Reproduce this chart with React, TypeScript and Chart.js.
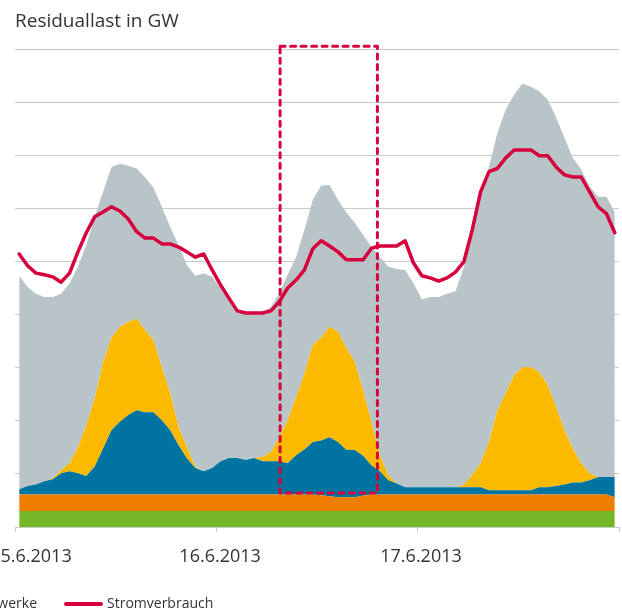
import React, { useEffect, useRef } from "react";
import { Chart, registerables } from "chart.js";

Chart.register(...registerables);

// ---------- data (GW, hourly values 15.6.2013 00:00 – 17.6.2013 23:00) ----------
const TITLE = "Residuallast in GW";
const dayLabels = ["15.6.2013", "16.6.2013", "17.6.2013"];

const green = [
  3.0, 3.0, 3.0, 3.0, 3.0, 3.0, 3.0, 3.0, 3.0, 3.0, 3.0, 3.0,
  3.0, 3.0, 3.0, 3.0, 3.0, 3.0, 3.0, 3.0, 3.0, 3.0, 3.0, 3.0,
  3.0, 3.0, 3.0, 3.0, 3.0, 3.0, 3.0, 3.0, 3.0, 3.0, 3.0, 3.0,
  3.0, 3.0, 3.0, 3.0, 3.0, 3.0, 3.0, 3.0, 3.0, 3.0, 3.0, 3.0,
  3.0, 3.0, 3.0, 3.0, 3.0, 3.0, 3.0, 3.0, 3.0, 3.0, 3.0, 3.0,
  3.0, 3.0, 3.0, 3.0, 3.0, 3.0, 3.0, 3.0, 3.0, 3.0, 3.0, 3.0,
];
const orange = [
  3.1, 3.1, 3.1, 3.1, 3.1, 3.1, 3.1, 3.1, 3.1, 3.1, 3.1, 3.1,
  3.1, 3.1, 3.1, 3.1, 3.1, 3.1, 3.1, 3.1, 3.1, 3.1, 3.1, 3.1,
  3.1, 3.1, 3.1, 3.1, 3.1, 3.1, 3.1, 3.1, 3.1, 3.1, 3.1, 3.1,
  3.0, 2.8, 2.6, 2.6, 2.6, 2.9, 3.1, 3.1, 3.1, 3.1, 3.1, 3.1,
  3.1, 3.1, 3.1, 3.1, 3.1, 3.1, 3.1, 3.1, 3.1, 3.1, 3.1, 3.1,
  3.1, 3.1, 3.1, 3.1, 3.1, 3.1, 3.1, 3.1, 3.1, 3.1, 3.1, 2.6,
];
const wind = [
  1.0, 1.6, 1.9, 2.5, 2.9, 4.0, 4.4, 4.0, 3.5, 5.3, 8.7, 12.1,
  13.7, 15.0, 15.9, 15.5, 15.5, 14.0, 12.1, 9.3, 6.8, 5.0, 4.4, 5.0,
  6.3, 6.9, 6.9, 6.5, 6.9, 6.3, 6.3, 6.3, 5.9, 7.4, 8.5, 9.9,
  10.3, 11.1, 10.4, 8.9, 8.9, 7.5, 5.5, 4.4, 2.7, 2.1, 1.4, 1.4,
  1.4, 1.4, 1.4, 1.4, 1.4, 1.4, 1.4, 1.4, 0.8, 0.8, 0.8, 0.8,
  0.8, 0.8, 1.4, 1.4, 1.6, 1.9, 2.3, 2.3, 2.7, 3.3, 3.3, 3.8,
];
const solar = [
  0, 0, 0, 0, 0.2, 0.6, 1.5, 4.9, 9.6, 12.8, 16.2, 17.5,
  17.9, 17.5, 17.2, 15.5, 13.6, 10.0, 7.0, 3.4, 2.1, 0.2, 0, 0,
  0, 0, 0, 0, 0, 0.8, 1.7, 4.5, 8.1, 10.9, 14.3, 18.3,
  19.4, 20.8, 20.8, 19.2, 16.6, 12.3, 8.1, 3.0, 0.9, 0, 0, 0,
  0, 0, 0, 0, 0, 0.4, 2.3, 4.5, 9.1, 15.1, 18.3, 21.7,
  23.2, 23.2, 21.7, 19.2, 14.9, 10.2, 6.4, 3.6, 1.3, 0, 0, 0,
];
const conventional = [
  40.2, 37.5, 35.9, 34.7, 34.1, 33.2, 33.9, 34.0, 33.9, 34.2, 32.1, 32.1,
  30.7, 29.4, 28.3, 28.7, 28.7, 30.2, 31.3, 34.3, 34.3, 36.0, 37.3, 36.0,
  32.6, 29.7, 27.5, 27.3, 27.1, 27.3, 27.3, 27.2, 27.4, 26.4, 27.0, 27.3,
  28.6, 26.7, 24.8, 25.5, 26.2, 29.3, 33.0, 37.3, 39.3, 40.4, 40.9, 38.4,
  35.4, 35.8, 35.8, 36.4, 36.9, 40.9, 45.6, 50.5, 51.8, 52.2, 53.4, 52.8,
  53.4, 52.8, 52.8, 53.8, 54.5, 55.1, 54.7, 55.3, 54.0, 52.8, 52.8, 49.8,
];
const consumption = [
  51.4, 49.2, 47.8, 47.5, 47.1, 46.1, 47.8, 51.8, 55.4, 58.4, 59.3, 60.3,
  59.5, 58.0, 55.6, 54.4, 54.4, 53.3, 53.3, 52.7, 51.8, 50.8, 51.4, 48.4,
  45.6, 43.1, 40.7, 40.3, 40.3, 40.3, 40.7, 42.4, 45.0, 46.5, 48.4, 52.4,
  53.9, 52.9, 51.8, 50.3, 50.3, 50.3, 52.5, 52.9, 52.9, 52.9, 53.9, 49.7,
  47.3, 46.9, 46.3, 46.9, 48.0, 49.9, 55.9, 63.1, 66.9, 67.5, 69.5, 71.0,
  71.0, 71.0, 69.9, 69.9, 67.8, 66.3, 65.9, 65.9, 63.1, 60.3, 59.0, 55.4,
];

// highlighted window (hours from 15.6. 00:00, GW)
const highlight = { from: 31.6, to: 43.2, low: 6.4, high: 90.5 };

// ---------- style ----------
const C_GREEN = "#76b72a";
const C_ORANGE = "#ef7d00";
const C_BLUE = "#0074a0";
const C_YELLOW = "#fbba00";
const C_GREY = "#b9c4c8";
const C_RED = "#d5003c";
const C_GRID = "#c6cdd1";
const C_TEXT = "#333333";
const FONT = '"Open Sans", "Noto Sans", sans-serif';

const toPoints = (arr: number[]) => arr.map((v, i) => ({ x: i + 0.5, y: v }));

const overlay = {
  id: "overlay",
  afterDatasetsDraw(chart: any) {
    const { ctx, scales } = chart;
    const x = scales.x;
    const y = scales.y;
    ctx.save();
    // dashed highlight box
    const l = x.getPixelForValue(highlight.from);
    const r = x.getPixelForValue(highlight.to);
    const t = y.getPixelForValue(highlight.high);
    const b = y.getPixelForValue(highlight.low);
    ctx.strokeStyle = C_RED;
    ctx.lineWidth = 3;
    ctx.lineCap = "round";
    ctx.lineJoin = "round";
    ctx.setLineDash([5, 5.5]);
    ctx.strokeRect(l, t, r - l, b - t);
    ctx.setLineDash([]);
    ctx.restore();
  },
  afterDraw(chart: any) {
    const { ctx, scales, chartArea } = chart;
    const x = scales.x;
    ctx.save();
    ctx.fillStyle = C_TEXT;
    ctx.textBaseline = "alphabetic";
    // title
    ctx.font = `19px ${FONT}`;
    ctx.textAlign = "left";
    ctx.fillText(TITLE, chartArea.left, 27);
    // day labels
    ctx.font = `18px ${FONT}`;
    ctx.textAlign = "center";
    const at = [1.9, 24.45, 48.4];
    dayLabels.forEach((lab, i) => {
      ctx.fillText(lab, x.getPixelForValue(at[i]), 562);
    });
    // legend (partially outside the picture on the left)
    ctx.font = `14px ${FONT}`;
    ctx.textAlign = "right";
    ctx.fillText("Konventionelle Kraftwerke", 37, 608);
    ctx.strokeStyle = C_RED;
    ctx.lineWidth = 4;
    ctx.lineCap = "round";
    ctx.beginPath();
    ctx.moveTo(66, 604);
    ctx.lineTo(101, 604);
    ctx.stroke();
    ctx.textAlign = "left";
    ctx.fillText("Stromverbrauch", 107, 608);
    ctx.restore();
  },
};

export default function App() {
  const ref = useRef<HTMLCanvasElement | null>(null);

  useEffect(() => {
    if (!ref.current) return;
    const area = (label: string, data: number[], color: string, fill: any) => ({
      label,
      data: toPoints(data),
      backgroundColor: color,
      borderColor: color,
      borderWidth: 0,
      pointRadius: 0,
      fill,
      stack: "areas",
      tension: 0,
      order: 1,
    });
    const chart = new Chart(ref.current, {
      type: "line",
      data: {
        datasets: [
          area("Biomasse", green, C_GREEN, "origin"),
          area("Wasserkraft", orange, C_ORANGE, "-1"),
          area("Wind", wind, C_BLUE, "-1"),
          area("Photovoltaik", solar, C_YELLOW, "-1"),
          area("Konventionelle Kraftwerke", conventional, C_GREY, "-1"),
          {
            label: "Stromverbrauch",
            data: toPoints(consumption),
            borderColor: C_RED,
            backgroundColor: C_RED,
            borderWidth: 3.5,
            borderJoinStyle: "round",
            borderCapStyle: "round",
            pointRadius: 0,
            fill: false,
            stack: "line",
            tension: 0,
            order: 0,
          } as any,
        ],
      },
      options: {
        animation: false,
        responsive: false,
        devicePixelRatio: 1,
        layout: { padding: { left: 15, right: 3, top: 49, bottom: 79 } },
        plugins: {
          legend: { display: false },
          tooltip: { enabled: false },
          title: { display: false },
        },
        scales: {
          x: {
            type: "linear",
            min: 0,
            max: 72,
            ticks: { display: false, stepSize: 24 },
            grid: {
              drawOnChartArea: false,
              drawTicks: true,
              tickLength: 5,
              tickColor: C_GRID,
              color: C_GRID,
            },
            border: { display: true, color: C_GRID, width: 1 },
          },
          y: {
            stacked: true,
            min: 0,
            max: 90,
            ticks: { display: false, stepSize: 10 },
            grid: { color: C_GRID, drawTicks: false, lineWidth: 1 },
            border: { display: false },
          },
        },
      },
      plugins: [overlay],
    } as any);
    return () => chart.destroy();
  }, []);

  return (
    <div style={{ position: "fixed", left: 0, top: 0, width: 622, height: 611, background: "#fff" }}>
      <canvas ref={ref} width={622} height={611} style={{ width: 622, height: 611, display: "block" }} />
    </div>
  );
}
